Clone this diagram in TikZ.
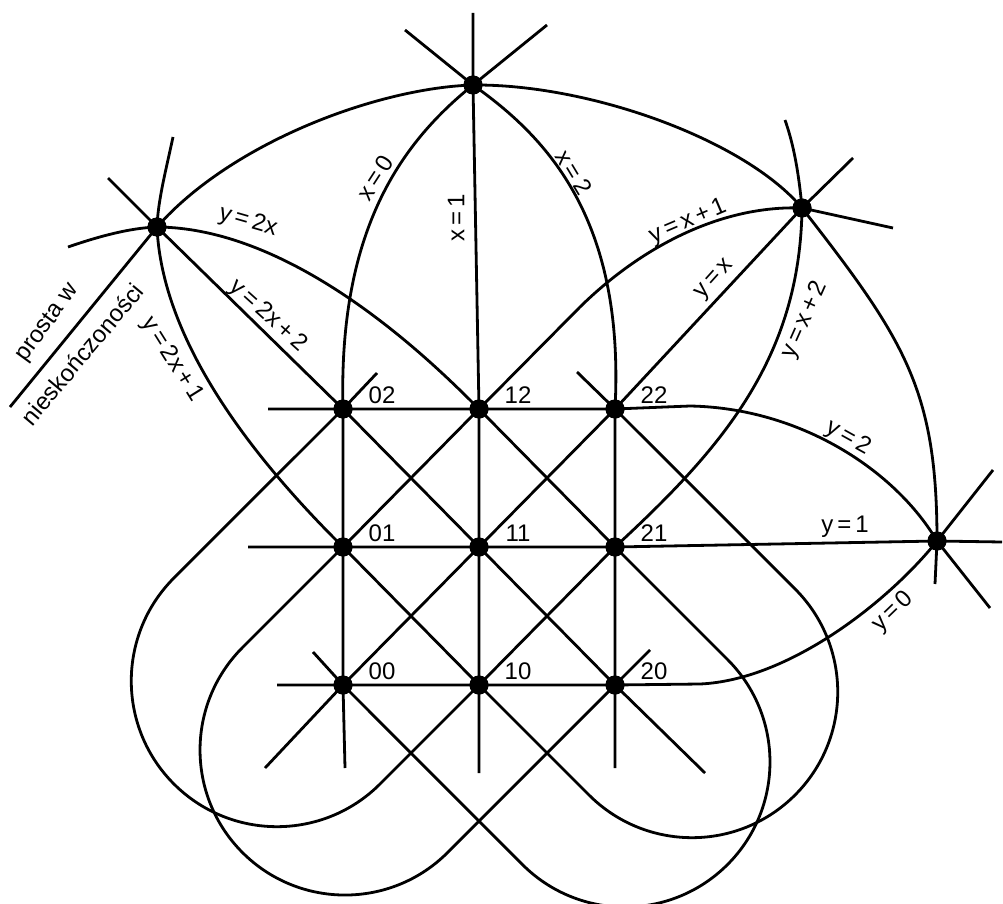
\documentclass[tikz,border=0pt]{standalone}
\usepackage{fontspec}
\setmainfont{Liberation Sans}
\begin{document}
\begin{tikzpicture}[x=1pt,y=-1pt,
  ln/.style={line width=2.8pt, line join=round, line cap=butt},
  pt/.style={circle, fill=black, inner sep=0pt, minimum size=19pt},
  lab/.style={font=\fontsize{24}{28}\selectfont, inner sep=1pt}]
\useasboundingbox (0,0) rectangle (1003,904);
% points at infinity
\node[pt] (L) at (157,227) {};
\node[pt] (T) at (473,85) {};
\node[pt] (R1) at (802,208) {};
\node[pt] (R) at (937,541) {};
% affine points
\node[pt] (P02) at (343,409) {};
\node[pt] (P12) at (479,409) {};
\node[pt] (P22) at (615,409) {};
\node[pt] (P01) at (343,547) {};
\node[pt] (P11) at (479,547) {};
\node[pt] (P21) at (615,547) {};
\node[pt] (P00) at (343,685) {};
\node[pt] (P10) at (479,685) {};
\node[pt] (P20) at (615,685) {};
% free ends
\coordinate (sLI) at (10,407);
\coordinate (sLIe) at (935,584);
\coordinate (sx0b) at (345,768);
\coordinate (sx0t) at (547,25);
\coordinate (sx1t) at (473,13);
\coordinate (sx1b) at (479,773);
\coordinate (sx2b) at (615,768);
\coordinate (sx2t) at (405,30);
\coordinate (sy2) at (268,409);
\coordinate (sy2e) at (990,608);
\coordinate (sy1) at (248,547);
\coordinate (sy1e) at (1002,542);
\coordinate (sy0) at (277,685);
\coordinate (sy0e) at (993,470);
\coordinate (syx) at (265,768);
\coordinate (syxe) at (853,158);
\coordinate (syx1) at (893,228);
\coordinate (syx1e) at (650,650);
\coordinate (syx2) at (785,120);
\coordinate (syx2e) at (377,373);
\coordinate (s2x) at (68,247);
\coordinate (s2xe) at (313,652);
\coordinate (s2x1) at (173,137);
\coordinate (s2x1e) at (577,372);
\coordinate (s2x2) at (108,178);
\coordinate (s2x2e) at (705,773);
% line at infinity
\draw[ln] (sLI) -- (L.center) .. controls (232,142) and (378,88) .. (T.center)
  .. controls (590,84) and (745,140) .. (R1.center)
  .. controls (905,340) and (937,390) .. (R.center) -- (sLIe);
% x = 0, 1, 2
\draw[ln] (sx0b) -- (P00.center) -- (P01.center) -- (P02.center)
  .. controls (338,225) and (405,140) .. (T.center) -- (sx0t);
\draw[ln] (sx1t) -- (T.center) -- (P12.center) -- (P11.center) -- (P10.center) -- (sx1b);
\draw[ln] (sx2b) -- (P20.center) -- (P21.center) -- (P22.center)
  .. controls (625,220) and (548,138) .. (T.center) -- (sx2t);
% y = 0, 1, 2
\draw[ln] (sy2) -- (P02.center) -- (P12.center) -- (P22.center) -- (690,406)
  .. controls (800,408) and (895,470) .. (R.center) -- (sy2e);
\draw[ln] (sy1) -- (P01.center) -- (P11.center) -- (P21.center) -- (R.center) -- (sy1e);
\draw[ln] (sy0) -- (P00.center) -- (P10.center) -- (P20.center) -- (700,684)
  .. controls (790,680) and (890,600) .. (R.center) -- (sy0e);
% y = x + c
\draw[ln] (syx) -- (P00.center) -- (P11.center) -- (P22.center) -- (R1.center) -- (syxe);
\draw[ln] (syx1) -- (R1.center) .. controls (720,205) and (640,248) .. (580,307)
  -- (P12.center) -- (P01.center) -- (242.5,647.5)
  arc[start angle=225, end angle=45, radius=145] -- (P20.center) -- (syx1e);
\draw[ln] (syx2) .. controls (792,140) and (798,165) .. (R1.center)
  .. controls (800,360) and (720,450) .. (P21.center) -- (P10.center) -- (380,784)
  arc[start angle=45, end angle=225, radius=145.7] -- (P02.center) -- (syx2e);
% y = 2x + c
\draw[ln] (s2x) .. controls (100,236) and (130,228) .. (L.center)
  .. controls (300,228) and (440,370) .. (P12.center) -- (P21.center) -- (727.5,659.5)
  arc[start angle=-45, end angle=135, radius=145] -- (P00.center) -- (s2xe);
\draw[ln] (s2x1) .. controls (166,170) and (158,200) .. (L.center)
  .. controls (162,340) and (250,455) .. (P01.center) -- (P10.center) -- (589,795)
  arc[start angle=135, end angle=-45, radius=145.7] -- (P22.center) -- (s2x1e);
\draw[ln] (s2x2) -- (L.center) -- (P02.center) -- (P11.center) -- (P20.center) -- (s2x2e);
% redraw dots on top
\foreach \p in {L,T,R1,R,P02,P12,P22,P01,P11,P21,P00,P10,P20}
  \fill (\p.center) circle[radius=9.5pt];
% line labels
\node[lab, rotate=57] (lx0) at (375,178) {x\,=\,0};
\node[lab, rotate=90] (lx1) at (456,218) {x\,=\,1};
\node[lab, rotate=-59] (lx2) at (574,172) {x\,=\,2};
\node[lab, rotate=-16] (ly2x) at (248,222) {y\,=\,2x};
\node[lab, rotate=-42] (ly2x2) at (268,316) {y\,=\,2x\,+\,2};
\node[lab, rotate=-58] (ly2x1) at (172,360) {y\,=\,2x\,+\,1};
\node[lab, rotate=54] (lpw) at (48,323) {prosta w};
\node[lab, rotate=50] (lnz) at (82,354) {nieskończoności};
\node[lab, rotate=23] (lyx1) at (688,222) {y\,=\,x\,+\,1};
\node[lab, rotate=48] (lyx) at (715,280) {y\,=\,x};
\node[lab, rotate=66] (lyx2) at (805,320) {y\,=\,x\,+\,2};
\node[lab, rotate=-29] (ly2) at (848,438) {y\,=\,2};
\node[lab] (ly1) at (845,527) {y\,=\,1};
\node[lab, rotate=44] (ly0) at (893,612) {y\,=\,0};
% point labels
\node[lab] (t02) at (382,395) {02};
\node[lab] (t12) at (518,395) {12};
\node[lab] (t22) at (654,395) {22};
\node[lab] (t01) at (382,533) {01};
\node[lab] (t11) at (518,533) {11};
\node[lab] (t21) at (654,533) {21};
\node[lab] (t00) at (382,671) {00};
\node[lab] (t10) at (518,671) {10};
\node[lab] (t20) at (654,671) {20};
\end{tikzpicture}
\end{document}
